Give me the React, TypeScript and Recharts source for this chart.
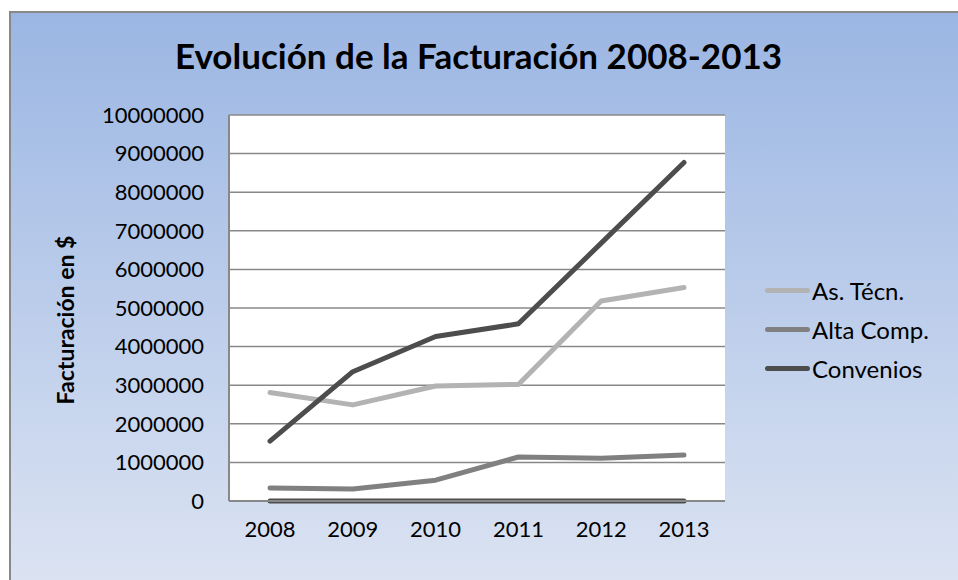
import { LineChart, Line, XAxis, YAxis, CartesianGrid } from 'recharts';

const years = ['2008', '2009', '2010', '2011', '2012', '2013'];
const asTecn = [2810000, 2490000, 2980000, 3020000, 5180000, 5530000];
const altaComp = [340000, 310000, 540000, 1140000, 1110000, 1190000];
const convenios = [1550000, 3350000, 4260000, 4590000, 6680000, 8770000];
const otros = [0, 0, 0, 0, 0, 0];
const yTicks = [0, 1000000, 2000000, 3000000, 4000000, 5000000, 6000000, 7000000, 8000000, 9000000, 10000000];

const data = years.map((year, i) => ({
  year,
  asTecn: asTecn[i],
  altaComp: altaComp[i],
  convenios: convenios[i],
  otros: otros[i],
}));

const font = 'Lato, "Open Sans", sans-serif';

const legendItems = [
  { label: 'As. Técn.', color: '#b3b3b3' },
  { label: 'Alta Comp.', color: '#808080' },
  { label: 'Convenios', color: '#4d4d4d' },
];

export default function App() {
  return (
    <div
      style={{
        position: 'absolute',
        left: 9,
        top: 11,
        width: 949,
        height: 569,
        boxSizing: 'border-box',
        borderLeft: '2px solid #888',
        borderTop: '2px solid #888',
        background: 'linear-gradient(to bottom, #9bb6e3 0%, #dbe3f2 100%)',
        overflow: 'hidden',
      }}
    >
      <div
        style={{
          position: 'absolute',
          left: 0,
          width: 935,
          top: 21,
          textAlign: 'center',
          fontFamily: font,
          fontWeight: 'bold',
          fontSize: 35,
          color: '#000',
        }}
      >
        Evolución de la Facturación 2008-2013
      </div>
      <div
        style={{
          position: 'absolute',
          left: 54,
          top: 307,
          transform: 'translate(-50%, -50%) rotate(-90deg)',
          whiteSpace: 'nowrap',
          fontFamily: font,
          fontWeight: 'bold',
          fontSize: 23,
          color: '#000',
        }}
      >
        Facturación en $
      </div>
      <div style={{ position: 'absolute', left: 754, top: 258, fontFamily: font, fontSize: 24, color: '#000' }}>
        {legendItems.map((item) => (
          <div key={item.label} style={{ display: 'flex', alignItems: 'center', height: 39 }}>
            <div style={{ width: 45, height: 5, borderRadius: 3, background: item.color, marginRight: 2 }} />
            <span>{item.label}</span>
          </div>
        ))}
      </div>
      <LineChart width={947} height={567} data={data} margin={{ top: 102, right: 233, bottom: 0, left: 0 }}>
        <CartesianGrid horizontal vertical={false} stroke="#888" strokeWidth={1.5} fill="#fff" />
        <XAxis
          dataKey="year"
          height={79}
          padding={{ left: 41, right: 41 }}
          tickLine={false}
          tickMargin={14}
          axisLine={{ stroke: '#888', strokeWidth: 2 }}
          tick={{ fill: '#000', fontSize: 22, fontFamily: font }}
        />
        <YAxis
          width={218}
          domain={[0, 10000000]}
          ticks={yTicks}
          interval={0}
          tickLine={false}
          tickMargin={19}
          axisLine={{ stroke: '#888', strokeWidth: 2 }}
          tick={{ fill: '#000', fontSize: 22, fontFamily: font }}
        />
        <Line dataKey="otros" stroke="#4d4d4d" strokeWidth={5} strokeLinecap="round" dot={false} legendType="none" isAnimationActive={false} />
        <Line dataKey="altaComp" name="Alta Comp." stroke="#808080" strokeWidth={5} strokeLinecap="round" strokeLinejoin="round" dot={false} isAnimationActive={false} />
        <Line dataKey="asTecn" name="As. Técn." stroke="#b3b3b3" strokeWidth={5} strokeLinecap="round" strokeLinejoin="round" dot={false} isAnimationActive={false} />
        <Line dataKey="convenios" name="Convenios" stroke="#4d4d4d" strokeWidth={5} strokeLinecap="round" strokeLinejoin="round" dot={false} isAnimationActive={false} />
      </LineChart>
    </div>
  );
}
